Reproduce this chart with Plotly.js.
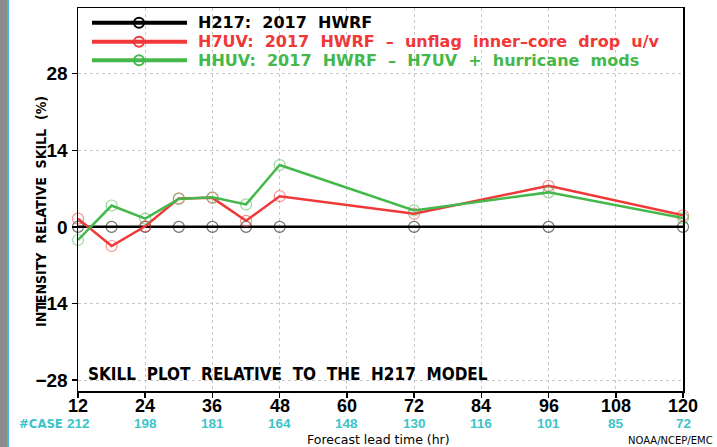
<!DOCTYPE html>
<html>
<head>
<meta charset="utf-8">
<script src="https://cdn.plot.ly/plotly-3.0.1.min.js"></script>
<style>
  html, body { margin: 0; padding: 0; background: #fff; }
  #plot { width: 717px; height: 447px; }
</style>
</head>
<body>
<div id="plot"></div>
<script>
// skill relative to H217, intensity (%)
var leadTimes = [12, 18, 24, 30, 36, 42, 48, 72, 96, 120];
var h217 = [0, 0, 0, 0, 0, 0, 0, 0, 0, 0];
var h7uv = [1.5, -3.5, 0.1, 5.2, 5.3, 1.1, 5.6, 2.4, 7.5, 2.1];
var hhuv = [-2.4, 3.9, 1.5, 5.1, 5.4, 4.1, 11.3, 3.0, 6.3, 1.6];

var tickHours = [12, 24, 36, 48, 60, 72, 84, 96, 108, 120];
var caseCounts = [212, 198, 181, 164, 148, 130, 116, 101, 85, 72];
var yTicks = [-28, -14, 0, 14, 28];
var yTickText = ['\u221228', '\u221214', '0', '14', '28'];

var seriesNames = [
    'H217:  2017  HWRF',
    'H7UV:  2017  HWRF  \u2013  unflag  inner\u2013core  drop  u/v',
    'HHUV:  2017  HWRF  \u2013  H7UV  +  hurricane  mods'
];
var seriesData = [h217, h7uv, hhuv];
var lineColors = ['#000000', '#f03838', '#44b84a'];
var markerColors = ['rgba(0,0,0,0.55)', 'rgba(240,56,56,0.55)', 'rgba(68,184,74,0.55)'];

// plot box in pixels
var L = 78, R = 683, T = 8, B = 391, W = 717, H = 447;
function px(x) { return (x - L) / (R - L); }
function py(y) { return (B - y) / (B - T); }

var data = [];
for (var i = 0; i < seriesData.length; i++) {
    data.push({
        x: leadTimes,
        y: seriesData[i],
        type: 'scatter',
        mode: 'lines+markers',
        name: seriesNames[i],
        line: { color: lineColors[i], width: 2.5 },
        marker: { symbol: 'circle-open', size: 11, color: markerColors[i], line: { width: 1.2, color: markerColors[i] } },
        showlegend: false,
        cliponaxis: false
    });
}

var shapes = [];
var annotations = [];

// legend drawn by hand
var legendY = [22.7, 41.7, 60.3];
for (var i = 0; i < seriesNames.length; i++) {
    shapes.push({
        type: 'line', xref: 'paper', yref: 'paper',
        x0: px(92), x1: px(187), y0: py(legendY[i]), y1: py(legendY[i]),
        line: { color: lineColors[i], width: 4 }
    });
    shapes.push({
        type: 'circle', xref: 'paper', yref: 'paper',
        xsizemode: 'pixel', ysizemode: 'pixel',
        xanchor: px(139), yanchor: py(legendY[i]),
        x0: -5, x1: 5, y0: -5, y1: 5,
        line: { color: lineColors[i], width: 2 }
    });
    annotations.push({
        xref: 'paper', yref: 'paper', x: px(197), y: py(legendY[i]),
        xanchor: 'left', yanchor: 'middle', showarrow: false, borderpad: 0,
        text: seriesNames[i],
        font: { family: 'DejaVu Sans', size: 16, weight: 'bold', color: lineColors[i] }
    });
}

// left window edge
shapes.push({
    type: 'rect', xref: 'paper', yref: 'paper',
    x0: px(0), x1: px(7), y0: py(H), y1: py(0),
    fillcolor: '#8c8c8c', line: { width: 0 }
});
shapes.push({
    type: 'line', xref: 'paper', yref: 'paper',
    x0: px(8), x1: px(8), y0: py(H), y1: py(0),
    line: { color: '#4cb4dc', width: 2 }
});

var tickFont = { family: 'Liberation Sans', size: 19, weight: 'bold', color: '#000' };

// x tick labels and case counts under the ticks
for (var i = 0; i < tickHours.length; i++) {
    annotations.push({
        xref: 'x', yref: 'paper', x: tickHours[i], y: py(405.5),
        xanchor: 'center', yanchor: 'middle', showarrow: false, borderpad: 0,
        text: String(tickHours[i]),
        font: { family: 'Liberation Sans', size: 18, weight: 'bold', color: '#000' }
    });
    annotations.push({
        xref: 'x', yref: 'paper', x: tickHours[i], y: py(423),
        xanchor: 'center', yanchor: 'middle', showarrow: false, borderpad: 0,
        text: String(caseCounts[i]),
        font: { family: 'Liberation Sans', size: 13.5, weight: 'bold', color: '#3cc4c8' }
    });
}
annotations.push({
    xref: 'paper', yref: 'paper', x: px(64), y: py(423),
    xanchor: 'right', yanchor: 'middle', showarrow: false, borderpad: 0,
    text: '#CASE',
    font: { family: 'DejaVu Sans Condensed', size: 13, weight: 'bold', color: '#3cc4c8' }
});

annotations.push({
    xref: 'paper', yref: 'paper', x: px(378), y: py(439.5),
    xanchor: 'center', yanchor: 'middle', showarrow: false, borderpad: 0,
    text: 'Forecast lead time (hr)',
    font: { family: 'DejaVu Sans', size: 12.5, color: '#000' }
});
annotations.push({
    xref: 'paper', yref: 'paper', x: px(41), y: py(212),
    xanchor: 'center', yanchor: 'middle', showarrow: false, textangle: -90, borderpad: 0,
    text: 'INTENSITY  RELATIVE  SKILL  (%)',
    font: { family: 'DejaVu Sans Condensed', size: 14, weight: 'bold', color: '#000' }
});
annotations.push({
    xref: 'paper', yref: 'paper', x: px(87), y: py(374),
    xanchor: 'left', yanchor: 'middle', showarrow: false, borderpad: 0,
    text: 'SKILL  PLOT  RELATIVE  TO  THE  H217  MODEL',
    font: { family: 'DejaVu Sans Condensed', size: 17, weight: 'bold', color: '#000' }
});
annotations.push({
    xref: 'paper', yref: 'paper', x: px(714), y: py(440),
    xanchor: 'right', yanchor: 'middle', showarrow: false, borderpad: 0,
    text: 'NOAA/NCEP/EMC',
    font: { family: 'DejaVu Sans', size: 10, color: '#000' }
});

var layout = {
    width: W,
    height: H,
    margin: { l: L, r: W - R, t: T, b: H - B, pad: 0 },
    paper_bgcolor: '#fff',
    plot_bgcolor: '#fff',
    showlegend: false,
    xaxis: {
        range: [12, 120],
        tickvals: tickHours,
        showticklabels: false,
        ticks: 'outside', ticklen: 5, tickwidth: 1.5, tickcolor: '#000',
        showline: true, linecolor: '#000', linewidth: 1.5, mirror: true,
        showgrid: true, gridcolor: '#c8c8c8', griddash: 'dot', gridwidth: 1,
        zeroline: false
    },
    yaxis: {
        range: [-30, 40],
        tickvals: yTicks,
        ticktext: yTickText,
        ticks: 'outside', ticklen: 5, tickwidth: 1.5, tickcolor: '#000',
        showline: true, linecolor: '#000', linewidth: 1.5, mirror: true,
        showgrid: true, gridcolor: '#c8c8c8', griddash: 'dot', gridwidth: 1,
        zeroline: true, zerolinecolor: '#000', zerolinewidth: 2,
        tickfont: tickFont
    },
    shapes: shapes,
    annotations: annotations
};

Plotly.newPlot('plot', data, layout, { displayModeBar: false, staticPlot: true });
</script>
</body>
</html>
